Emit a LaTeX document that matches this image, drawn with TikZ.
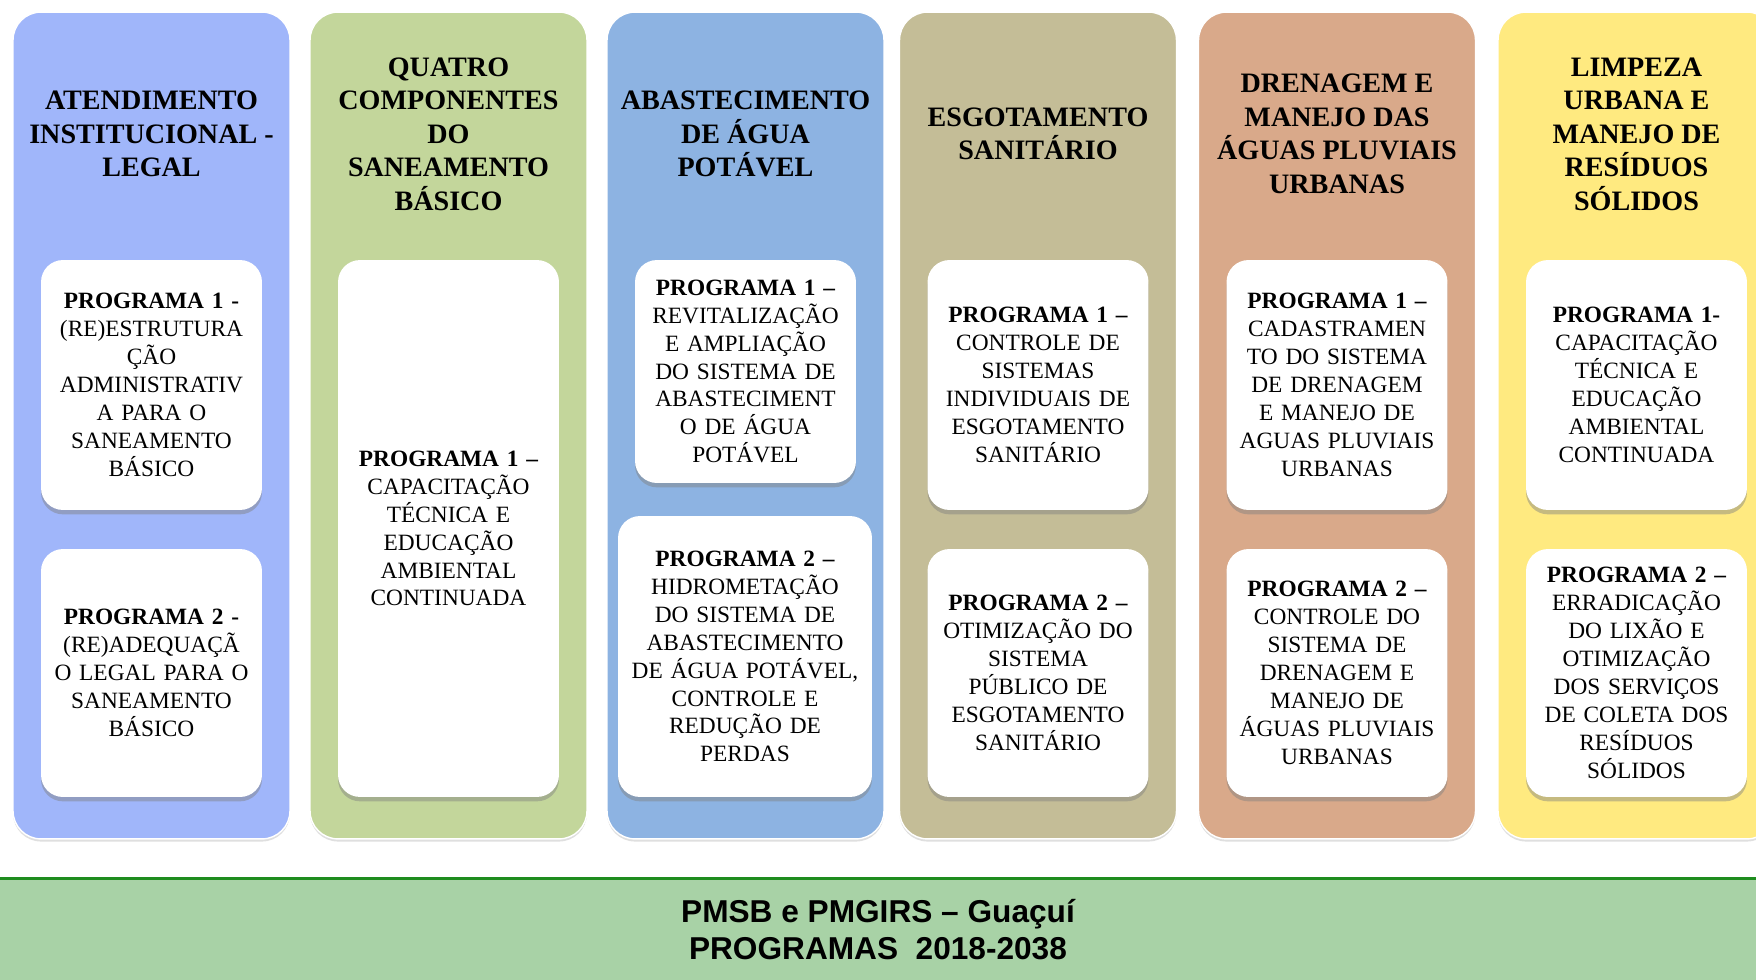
\documentclass[tikz,border=0pt]{standalone}
\usepackage{fontspec}
\setmainfont{Liberation Serif}
\newfontfamily\bannerfont{Liberation Sans}
\usetikzlibrary{shadows}

\definecolor{instblue}{HTML}{A0B6FA}
\definecolor{compgreen}{HTML}{C3D69B}
\definecolor{aguablue}{HTML}{8DB3E2}
\definecolor{esgkhaki}{HTML}{C4BD97}
\definecolor{drentan}{HTML}{D9A98A}
\definecolor{limpyellow}{HTML}{FFEA80}
\definecolor{bannergreen}{HTML}{A8D2A6}
\definecolor{bannerline}{HTML}{1E8C1E}

\tikzset{
  column/.style={rounded corners=0.56cm, minimum width=5.54cm, minimum height=16.54cm,
    inner sep=0pt, draw=white, line width=0.8pt,
    drop shadow={shadow xshift=0pt, shadow yshift=-1.5pt, opacity=0.25}},
  progbox/.style={fill=white, rounded corners=0.44cm, text width=4.2cm, inner xsep=0.11cm,
    inner ysep=0pt, align=center, font=\fontsize{13.3}{15.9}\selectfont,
    drop shadow={shadow xshift=0pt, shadow yshift=-2.5pt, opacity=0.45}},
  header/.style={align=center, font=\bfseries\fontsize{16}{19.1}\selectfont},
  banner/.style={fill=bannergreen, minimum width=35.12cm, minimum height=2.02cm, inner sep=0pt,
    align=center, font=\bannerfont\bfseries\fontsize{18}{21}\selectfont}
}

\begin{document}
\begin{tikzpicture}[x=0.02cm, y=-0.02cm]
  \useasboundingbox (0,0) rectangle (1756,980);

  % Columns
  \node[column, fill=instblue] (c1) at (151.5,425.5) {};
  \node[column, fill=compgreen] (c2) at (448.5,425.5) {};
  \node[column, fill=aguablue] (c3) at (745.5,425.5) {};
  \node[column, fill=esgkhaki] (c4) at (1038,425.5) {};
  \node[column, fill=drentan] (c5) at (1337,425.5) {};
  \node[column, fill=limpyellow] (c6) at (1636.5,425.5) {};

  % Column titles
  \node[header] (h1) at (151.5,134) {ATENDIMENTO\\INSTITUCIONAL -\\LEGAL};
  \node[header] (h2) at (448.5,134) {QUATRO\\COMPONENTES\\DO\\SANEAMENTO\\BÁSICO};
  \node[header] (h3) at (745.5,134) {ABASTECIMENTO\\DE ÁGUA\\POTÁVEL};
  \node[header] (h4) at (1038,134) {ESGOTAMENTO\\SANITÁRIO};
  \node[header] (h5) at (1337,134) {DRENAGEM E\\MANEJO DAS\\ÁGUAS PLUVIAIS\\URBANAS};
  \node[header] (h6) at (1636.5,134) {LIMPEZA\\URBANA E\\MANEJO DE\\RESÍDUOS\\SÓLIDOS};

  % Programas
  \node[progbox, minimum height=5cm] (p11) at (151.5,385)
    {\textbf{PROGRAMA 1 -}\\(RE)ESTRUTURA\\ÇÃO\\ADMINISTRATIV\\A PARA O\\SANEAMENTO\\BÁSICO};
  \node[progbox, minimum height=4.96cm] (p12) at (151.5,673)
    {\textbf{PROGRAMA 2 -}\\(RE)ADEQUAÇÃ\\O LEGAL PARA O\\SANEAMENTO\\BÁSICO};
  \node[progbox, minimum height=10.74cm] (p21) at (448.5,528.5)
    {\textbf{PROGRAMA 1 –}\\CAPACITAÇÃO\\TÉCNICA E\\EDUCAÇÃO\\AMBIENTAL\\CONTINUADA};
  \node[progbox, minimum height=4.46cm] (p31) at (745.5,371.5)
    {\textbf{PROGRAMA 1 –}\\REVITALIZAÇÃO\\E AMPLIAÇÃO\\DO SISTEMA DE\\ABASTECIMENT\\O DE ÁGUA\\POTÁVEL};
  \node[progbox, minimum height=5.62cm, text width=4.86cm] (p32) at (745,656.5)
    {\textbf{PROGRAMA 2 –}\\HIDROMETAÇÃO\\DO SISTEMA DE\\ABASTECIMENTO\\DE ÁGUA POTÁVEL,\\CONTROLE E\\REDUÇÃO DE\\PERDAS};
  \node[progbox, minimum height=5cm] (p41) at (1038,385)
    {\textbf{PROGRAMA 1 –}\\CONTROLE DE\\SISTEMAS\\INDIVIDUAIS DE\\ESGOTAMENTO\\SANITÁRIO};
  \node[progbox, minimum height=4.96cm] (p42) at (1038,673)
    {\textbf{PROGRAMA 2 –}\\OTIMIZAÇÃO DO\\SISTEMA\\PÚBLICO DE\\ESGOTAMENTO\\SANITÁRIO};
  \node[progbox, minimum height=5cm] (p51) at (1337,385)
    {\textbf{PROGRAMA 1 –}\\CADASTRAMEN\\TO DO SISTEMA\\DE DRENAGEM\\E MANEJO DE\\AGUAS PLUVIAIS\\URBANAS};
  \node[progbox, minimum height=4.96cm] (p52) at (1337,673)
    {\textbf{PROGRAMA 2 –}\\CONTROLE DO\\SISTEMA DE\\DRENAGEM E\\MANEJO DE\\ÁGUAS PLUVIAIS\\URBANAS};
  \node[progbox, minimum height=5cm] (p61) at (1636.5,385)
    {\textbf{PROGRAMA 1-}\\CAPACITAÇÃO\\TÉCNICA E\\EDUCAÇÃO\\AMBIENTAL\\CONTINUADA};
  \node[progbox, minimum height=4.96cm] (p62) at (1636.5,673)
    {\textbf{PROGRAMA 2 –}\\ERRADICAÇÃO\\DO LIXÃO E\\OTIMIZAÇÃO\\DOS SERVIÇOS\\DE COLETA DOS\\RESÍDUOS\\SÓLIDOS};

  % Banner
  \node[banner] (ban) at (878,929.5) {PMSB e PMGIRS – Guaçuí\\PROGRAMAS\ \ 2018-2038};
  \draw[bannerline, line width=1.5pt] (ban.north west) -- (ban.north east);
\end{tikzpicture}
\end{document}
